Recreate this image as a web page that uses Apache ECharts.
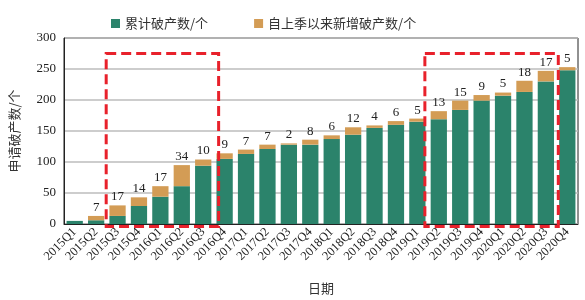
<!DOCTYPE html>
<html>
<head>
<meta charset="utf-8">
<script src="https://cdn.jsdelivr.net/npm/echarts@6/dist/echarts.min.js"></script>
<style>
  html, body { margin: 0; padding: 0; background: #fff; }
  #chart { width: 585px; height: 300px; }
</style>
</head>
<body>
<div id="chart"></div>
<script>
// 季度
const quarters = [
  "2015Q1", "2015Q2", "2015Q3", "2015Q4",
  "2016Q1", "2016Q2", "2016Q3", "2016Q4",
  "2017Q1", "2017Q2", "2017Q3", "2017Q4",
  "2018Q1", "2018Q2", "2018Q3", "2018Q4",
  "2019Q1", "2019Q2", "2019Q3", "2019Q4",
  "2020Q1", "2020Q2", "2020Q3", "2020Q4"
];
// 累计破产数
const cumulative = [5, 6, 13, 29, 44, 61, 94, 105, 113, 121, 128, 128,
  137, 144, 155, 160, 165, 169, 184, 199, 207, 213, 230, 248];
// 自上季以来新增破产数
const added = [0, 7, 17, 14, 17, 34, 10, 9, 7, 7, 2, 8,
  6, 12, 4, 6, 5, 13, 15, 9, 5, 18, 17, 5];
// y 轴刻度
const yTicks = [0, 50, 100, 150, 200, 250, 300];
// 红色虚线框 (类目下标范围, 数值范围)
const boxes = [
  { from: 1.47, to: 6.72, top: 275, bottom: -4 },
  { from: 16.35, to: 22.58, top: 275, bottom: -4 }
];

const serif = "Liberation Serif";
const cjk = "Noto Sans CJK SC";

const chart = echarts.init(document.getElementById("chart"));

const option = {
  animation: false,
  legend: {
    top: 12,
    left: 106,
    itemWidth: 9,
    itemHeight: 9,
    itemGap: 46,
    icon: "rect",
    textStyle: { fontFamily: cjk, fontSize: 13, color: "#333" },
    data: ["累计破产数/个", "自上季以来新增破产数/个"]
  },
  grid: {
    show: true,
    left: 62,
    right: 7,
    top: 38,
    bottom: 71,
    borderColor: "#222",
    borderWidth: 1
  },
  xAxis: {
    type: "category",
    data: quarters,
    name: "日期",
    nameLocation: "middle",
    nameGap: 58,
    nameTextStyle: { fontFamily: cjk, fontSize: 13, color: "#333" },
    axisLine: { lineStyle: { color: "#222" } },
    axisTick: { show: false },
    axisLabel: {
      rotate: 45,
      interval: 0,
      margin: 6,
      fontFamily: serif,
      fontSize: 12.5,
      color: "#222"
    }
  },
  yAxis: {
    type: "value",
    min: yTicks[0],
    max: yTicks[yTicks.length - 1],
    interval: 50,
    name: "申请破产数/个",
    nameLocation: "middle",
    nameGap: 43,
    nameRotate: 90,
    nameTextStyle: { fontFamily: cjk, fontSize: 13, color: "#333" },
    axisLine: { show: true, lineStyle: { color: "#222" } },
    axisTick: { show: false },
    axisLabel: { fontFamily: serif, fontSize: 13, color: "#222", margin: 8 },
    splitLine: { lineStyle: { color: "#bdbdbd", width: 1.5 } }
  },
  series: [
    {
      name: "累计破产数/个",
      type: "bar",
      stack: "total",
      barCategoryGap: "24%",
      itemStyle: { color: "#2b836b" },
      data: cumulative
    },
    {
      name: "自上季以来新增破产数/个",
      type: "bar",
      stack: "total",
      itemStyle: { color: "#d39c55" },
      label: {
        show: true,
        position: "top",
        distance: 2,
        fontFamily: serif,
        fontSize: 13,
        color: "#222",
        formatter: (p) => (p.value > 0 ? p.value : "")
      },
      data: added
    }
  ]
};

chart.setOption(option);

// 类目轴换算会取整，这里在相邻两个类目中心之间插值
function xPixel(idx) {
  const i = Math.floor(idx);
  const a = chart.convertToPixel({ xAxisIndex: 0 }, quarters[i]);
  const b = chart.convertToPixel({ xAxisIndex: 0 }, quarters[i + 1]);
  return a + (b - a) * (idx - i);
}

// 红色虚线框
const graphics = boxes.map((b) => {
  const x1 = xPixel(b.from);
  const x2 = xPixel(b.to);
  const y1 = chart.convertToPixel({ yAxisIndex: 0 }, b.top);
  const y2 = chart.convertToPixel({ yAxisIndex: 0 }, b.bottom);
  return {
    type: "rect",
    z: 100,
    shape: { x: x1, y: y1, width: x2 - x1, height: y2 - y1 },
    style: {
      fill: null,
      stroke: "#e8212b",
      lineWidth: 3,
      lineDash: [10, 5]
    }
  };
});
chart.setOption({ graphic: graphics });
</script>
</body>
</html>
